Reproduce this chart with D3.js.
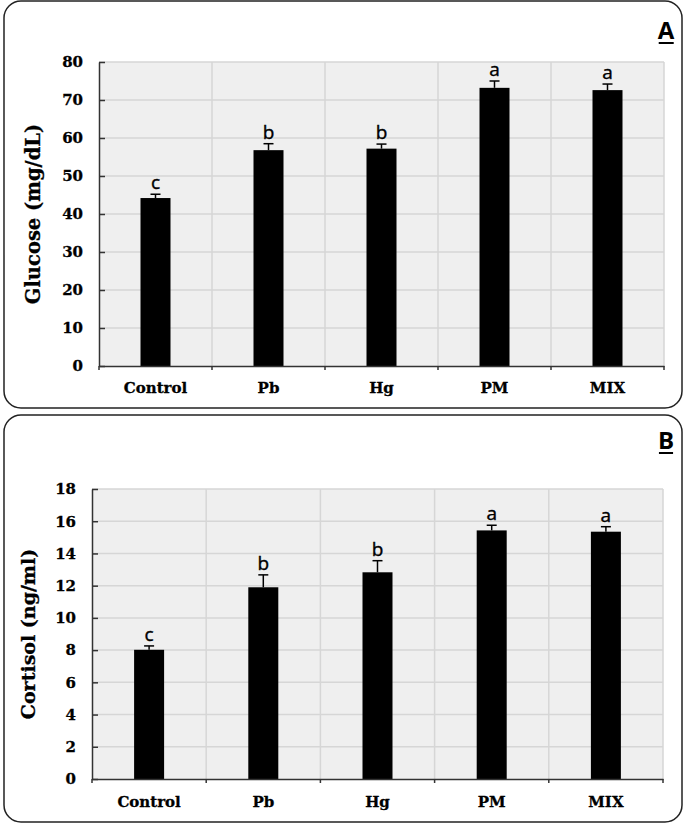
<!DOCTYPE html>
<html>
<head>
<meta charset="utf-8">
<script src="https://cdn.jsdelivr.net/npm/d3@7"></script>
<style>
  html, body { margin: 0; padding: 0; background: #fff; }
  svg { display: block; }
</style>
</head>
<body>
<div id="chart"></div>
<script>
var categories = ['Control', 'Pb', 'Hg', 'PM', 'MIX'];

var glucoseMeans = [44.2, 56.8, 57.2, 73.2, 72.6];
var glucoseErr = [1.0, 1.7, 1.2, 1.8, 1.6];
var glucoseLetters = ['c', 'b', 'b', 'a', 'a'];
var glucoseTicks = [0, 10, 20, 30, 40, 50, 60, 70, 80];

var cortisolMeans = [8.02, 11.9, 12.83, 15.43, 15.35];
var cortisolErr = [0.24, 0.77, 0.72, 0.32, 0.31];
var cortisolLetters = ['c', 'b', 'b', 'a', 'a'];
var cortisolTicks = [0, 2, 4, 6, 8, 10, 12, 14, 16, 18];

var W = 685, H = 824;
var svg = d3.select('#chart').append('svg')
  .attr('width', W)
  .attr('height', H);

var panels = [
  { tag: 'A', box: [4, 1, 678, 407], plot: { left: 99, right: 664, top: 62, bottom: 366 },
    max: 80, ticks: glucoseTicks, means: glucoseMeans, err: glucoseErr, letters: glucoseLetters,
    title: 'Glucose (mg/dL)', titleSize: 19.5, titleX: 33, catY: 393, tagY: 39 },
  { tag: 'B', box: [4, 415, 678, 407], plot: { left: 92, right: 663, top: 489, bottom: 779 },
    max: 18, ticks: cortisolTicks, means: cortisolMeans, err: cortisolErr, letters: cortisolLetters,
    title: 'Cortisol (ng/ml)', titleSize: 19, titleX: 28, catY: 807, tagY: 449 }
];

var serif = '"DejaVu Serif", serif';
var sans = '"Open Sans", "Liberation Sans", sans-serif';

panels.forEach(function(p) {
  var g = svg.append('g');

  // rounded frame
  g.append('rect')
    .attr('x', p.box[0]).attr('y', p.box[1])
    .attr('width', p.box[2]).attr('height', p.box[3])
    .attr('rx', 17).attr('ry', 17)
    .attr('fill', 'none')
    .attr('stroke', '#222')
    .attr('stroke-width', 1.5);

  var x = d3.scaleBand()
    .domain(categories)
    .range([p.plot.left, p.plot.right]);

  var y = d3.scaleLinear()
    .domain([0, p.max])
    .range([p.plot.bottom, p.plot.top]);

  // plot background
  g.append('rect')
    .attr('x', p.plot.left).attr('y', p.plot.top)
    .attr('width', p.plot.right - p.plot.left)
    .attr('height', p.plot.bottom - p.plot.top)
    .attr('fill', '#efefef');

  // horizontal grid
  g.append('g')
    .selectAll('line')
    .data(p.ticks.slice(1))
    .enter().append('line')
    .attr('x1', p.plot.left).attr('x2', p.plot.right)
    .attr('y1', d => y(d)).attr('y2', d => y(d))
    .attr('stroke', '#d6d6d6')
    .attr('stroke-width', 1.5);

  // vertical grid at category boundaries
  var bounds = categories.slice(1).map(c => x(c)).concat([p.plot.right]);
  g.append('g')
    .selectAll('line')
    .data(bounds)
    .enter().append('line')
    .attr('x1', d => d).attr('x2', d => d)
    .attr('y1', p.plot.top).attr('y2', p.plot.bottom)
    .attr('stroke', '#d6d6d6')
    .attr('stroke-width', 1.5);

  // bars
  var bw = 30;
  g.append('g')
    .selectAll('rect')
    .data(p.means)
    .enter().append('rect')
    .attr('x', (d, i) => x(categories[i]) + x.bandwidth() / 2 - bw / 2)
    .attr('y', d => y(d))
    .attr('width', bw)
    .attr('height', d => y(0) - y(d))
    .attr('fill', '#000');

  // error bars
  var eb = g.append('g').attr('stroke', '#000').attr('stroke-width', 1.5);
  p.means.forEach(function(m, i) {
    var cx = x(categories[i]) + x.bandwidth() / 2;
    eb.append('line')
      .attr('x1', cx).attr('x2', cx)
      .attr('y1', y(m)).attr('y2', y(m + p.err[i]));
    eb.append('line')
      .attr('x1', cx - 5).attr('x2', cx + 5)
      .attr('y1', y(m + p.err[i])).attr('y2', y(m + p.err[i]));
  });

  // significance letters
  g.append('g')
    .selectAll('text')
    .data(p.letters)
    .enter().append('text')
    .attr('x', (d, i) => x(categories[i]) + x.bandwidth() / 2)
    .attr('y', (d, i) => y(p.means[i] + p.err[i]) - 5)
    .attr('text-anchor', 'middle')
    .attr('font-family', sans)
    .attr('font-size', '19px')
    .attr('fill', '#000')
    .attr('stroke', '#000')
    .attr('stroke-width', 0.4)
    .text(d => d);

  // y axis
  var yAxis = g.append('g')
    .attr('transform', 'translate(' + p.plot.left + ',0)')
    .call(d3.axisLeft(y).tickValues(p.ticks).tickSizeInner(-6).tickSizeOuter(0).tickPadding(16));
  yAxis.select('.domain').attr('stroke', '#333').attr('stroke-width', 1.5);
  yAxis.selectAll('.tick line').attr('stroke', '#333').attr('stroke-width', 1.5);
  yAxis.selectAll('.tick text')
    .attr('font-family', serif)
    .attr('font-weight', 'bold')
    .attr('font-size', '15px')
    .attr('fill', '#000')
    .attr('stroke', '#000')
    .attr('stroke-width', 0.3);

  // x axis
  var xAxis = g.append('g')
    .attr('transform', 'translate(0,' + p.plot.bottom + ')')
    .call(d3.axisBottom(x).tickSize(0).tickPadding(0));
  xAxis.select('.domain').attr('stroke', '#333').attr('stroke-width', 1.5);
  xAxis.selectAll('.tick text').remove();
  xAxis.selectAll('.bound')
    .data([p.plot.left].concat(bounds))
    .enter().append('line')
    .attr('x1', d => d).attr('x2', d => d)
    .attr('y1', 0).attr('y2', 4)
    .attr('stroke', '#333').attr('stroke-width', 1.5);

  g.append('g')
    .selectAll('text')
    .data(categories)
    .enter().append('text')
    .attr('x', d => x(d) + x.bandwidth() / 2)
    .attr('y', p.catY)
    .attr('text-anchor', 'middle')
    .attr('font-family', serif)
    .attr('font-weight', 'bold')
    .attr('font-size', '15px')
    .attr('fill', '#000')
    .attr('stroke', '#000')
    .attr('stroke-width', 0.3)
    .text(d => d);

  // y title
  var cy = (p.plot.top + p.plot.bottom) / 2;
  g.append('text')
    .attr('transform', 'translate(' + p.titleX + ',' + cy + ') rotate(-90)')
    .attr('text-anchor', 'middle')
    .attr('dy', '0.35em')
    .attr('font-family', serif)
    .attr('font-weight', 'bold')
    .attr('font-size', p.titleSize + 'px')
    .attr('fill', '#000')
    .attr('stroke', '#000')
    .attr('stroke-width', 0.3)
    .text(p.title);

  // panel tag, underlined
  var tag = g.append('text')
    .attr('x', 666)
    .attr('y', p.tagY)
    .attr('text-anchor', 'middle')
    .attr('font-family', sans)
    .attr('font-weight', 'bold')
    .attr('font-size', '24px')
    .attr('fill', '#000')
    .text(p.tag);
  var bb = tag.node().getBBox();
  g.append('line')
    .attr('x1', bb.x + 1).attr('x2', bb.x + bb.width - 1)
    .attr('y1', p.tagY + 4).attr('y2', p.tagY + 4)
    .attr('stroke', '#000').attr('stroke-width', 2);
});
</script>
</body>
</html>
